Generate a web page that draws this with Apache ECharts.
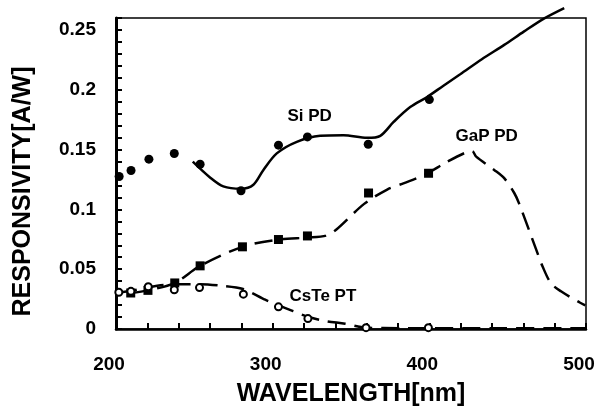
<!DOCTYPE html>
<html>
<head>
<meta charset="utf-8">
<script src="https://cdn.jsdelivr.net/npm/echarts@6/dist/echarts.min.js"></script>
<style>
  html, body { margin: 0; padding: 0; background: #fff; }
  #chart-container { width: 608px; height: 412px; }
</style>
</head>
<body>
<div id="chart-container"></div>
<script>
// measured points [wavelength nm, responsivity A/W]
var siPoints = [[202, 0.1275], [209.6, 0.1325], [221, 0.142], [237.2, 0.1467], [253.7, 0.1377],
    [279.8, 0.1156], [303.7, 0.1537], [322.2, 0.1606], [361, 0.1545], [400, 0.1918]];
var siCurve = [[249, 0.1399], [260, 0.1267], [268.5, 0.1192], [279.8, 0.1172],
    [287.7, 0.1206], [294.1, 0.133], [302.6, 0.1468], [315.4, 0.1565], [330.3, 0.1615],
    [345.2, 0.162], [360.2, 0.1598], [368.7, 0.1615], [377.2, 0.1731], [387.8, 0.1855],
    [398.4, 0.1938], [409, 0.2034], [419.7, 0.2129], [433.5, 0.2255], [447.8, 0.2375],
    [460.5, 0.2488], [473.4, 0.2597], [486.1, 0.2683]];

var gapPoints = [[209.4, 0.0301], [220.4, 0.0323], [237.5, 0.0385], [253.7, 0.0528],
    [280.7, 0.0687], [303.7, 0.0748], [322.2, 0.0778], [361.2, 0.1137], [399.5, 0.1302]];
var gapCurve = [[209.4, 0.0301], [220.4, 0.0323], [237.5, 0.0385], [253.7, 0.0528],
    [280.7, 0.0687], [303.7, 0.0748], [322.6, 0.0764], [334.1, 0.0781], [340.5, 0.083],
    [358.4, 0.1046], [373.1, 0.1166], [383.9, 0.122], [396.7, 0.1288], [411.6, 0.1399],
    [423.4, 0.1476], [427.4, 0.1485], [429.9, 0.1441], [441.4, 0.133], [447.8, 0.1261],
    [454.2, 0.1137], [457.4, 0.1046], [469.1, 0.0632], [472.3, 0.0522], [477.6, 0.0383],
    [484, 0.0315], [495.7, 0.0224], [499.5, 0.0197]];

var csPoints = [[201.8, 0.0307], [209.5, 0.0315], [220.6, 0.0353], [237.2, 0.0328],
    [253.3, 0.0346], [281.3, 0.0291], [303.7, 0.0185], [322.5, 0.0087], [359.6, 0.0011], [399.4, 0.0011]];
var csCurve = [[202, 0.0307], [209.6, 0.0317], [220.5, 0.035], [237.7, 0.0375], [253.7, 0.0375],
    [266.4, 0.0363], [281.1, 0.0334], [295.2, 0.0245], [304.8, 0.0193], [313.1, 0.0149],
    [322.6, 0.0102], [333.9, 0.0066], [346.3, 0.0044], [359.5, 0.0011], [381.4, 0.0007],
    [399.3, 0.0007], [445, 0.0007], [500, 0.0007]];

var curveNames = [['Si PD', 323.6, 0.1779], ['GaP PD', 436.6, 0.1613], ['CsTe PT', 332.1, 0.0272]];

var font = '"Liberation Sans", Arial, sans-serif';

var dom = document.getElementById('chart-container');
var myChart = echarts.init(dom, null, { renderer: 'canvas' });

var option = {
    animation: false,
    grid: {
        left: 116, right: 22, top: 18, bottom: 80,
        show: true, borderColor: '#000', borderWidth: 1.5
    },
    xAxis: {
        type: 'value', min: 200, max: 500, interval: 20,
        name: 'WAVELENGTH[nm]', nameLocation: 'middle', nameGap: 53,
        nameTextStyle: { fontFamily: font, fontWeight: 'bold', fontSize: 25, color: '#000' },
        axisLine: { lineStyle: { color: '#000', width: 2.5 } },
        axisTick: { inside: true, length: 6, lineStyle: { color: '#000', width: 2 } },
        splitLine: { show: false },
        axisLabel: {
            margin: 26, fontFamily: font, fontWeight: 'bold', fontSize: 19, color: '#000',
            padding: [0, 14, 0, 0],
            formatter: function (v) { return v % 100 === 0 ? String(v) : ''; }
        }
    },
    yAxis: {
        type: 'value', min: 0, max: 0.26, interval: 0.01,
        axisLine: { lineStyle: { color: '#000', width: 3 } },
        axisTick: { inside: true, length: 6, lineStyle: { color: '#000', width: 2 } },
        splitLine: { show: false },
        axisLabel: {
            margin: 20, fontFamily: font, fontWeight: 'bold', fontSize: 19, color: '#000',
            formatter: function (v) {
                var c = Math.round(v * 100);
                return c % 5 === 0 ? String(c / 100) : '';
            }
        }
    },
    graphic: [{
        type: 'text', x: 23.5, y: 191.5, rotation: Math.PI / 2,
        style: {
            text: 'RESPONSIVITY[A/W]', fill: '#000',
            font: 'bold 25px ' + font, textAlign: 'center', textVerticalAlign: 'middle'
        }
    }],
    series: [
        {
            type: 'line', data: siCurve, smooth: 0.3, showSymbol: false, clip: false,
            lineStyle: { color: '#000', width: 2.5 }, z: 2
        },
        {
            type: 'line', data: gapCurve, smooth: 0.3, showSymbol: false,
            lineStyle: { color: '#000', width: 2.5, type: [18, 9] }, z: 2
        },
        {
            type: 'line', data: csCurve, smooth: 0.3, showSymbol: false,
            lineStyle: { color: '#000', width: 2.5, type: [18, 9] }, z: 2
        },
        {
            type: 'scatter', data: siPoints, symbol: 'circle', symbolSize: 9,
            itemStyle: { color: '#000', opacity: 1 }, z: 3
        },
        {
            type: 'scatter', data: gapPoints, symbol: 'rect', symbolSize: 9,
            itemStyle: { color: '#000', opacity: 1 }, z: 3
        },
        {
            type: 'scatter', data: csPoints, symbol: 'circle', symbolSize: 7,
            itemStyle: { color: '#fff', borderColor: '#000', borderWidth: 2, opacity: 1 }, z: 4
        },
        {
            type: 'scatter', symbolSize: 0, silent: true,
            itemStyle: { opacity: 1 },
            data: curveNames.map(function (d) { return { name: d[0], value: [d[1], d[2]] }; }),
            label: {
                show: true, position: 'inside', formatter: '{b}', color: '#000',
                fontFamily: font, fontWeight: 'bold', fontSize: 17
            }, z: 5
        }
    ]
};

myChart.setOption(option);
window.addEventListener('resize', myChart.resize);
</script>
</body>
</html>
